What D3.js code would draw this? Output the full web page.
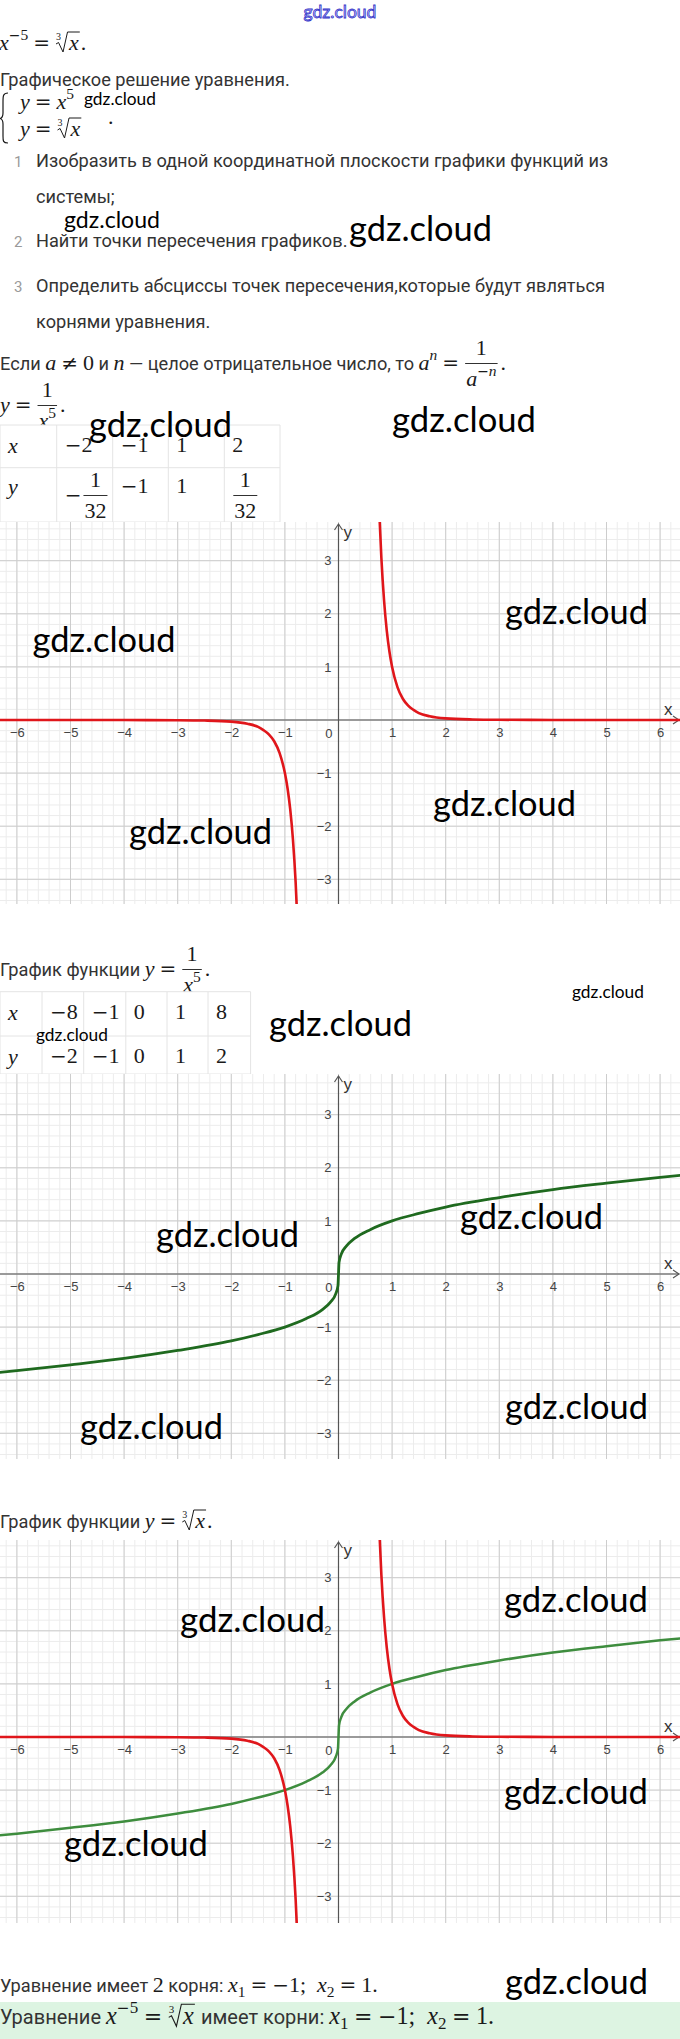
<!DOCTYPE html>
<html>
<head>
<meta charset="utf-8">
<script src="https://cdn.jsdelivr.net/npm/d3@7"></script>
<style>
	html, body { margin: 0; padding: 0; background: #fff; }
	svg { display: block; }
</style>
</head>
<body>
<div id="page"></div>
<script>
// tick labels of the three plots
var tickX = [-6, -5, -4, -3, -2, -1, 1, 2, 3, 4, 5, 6];
var tickY = [-3, -2, -1, 1, 2, 3];

// value tables
var table1X = ["−2", "−1", "1", "2"];
var table1Y = [{ sign: "−", num: "1", den: "32" }, "−1", "1", { sign: "", num: "1", den: "32" }];
var table2X = ["−8", "−1", "0", "1", "8"];
var table2Y = ["−2", "−1", "0", "1", "2"];

// y = x^-5
var redRightX = [0.76, 0.8, 0.85, 0.9, 0.95, 1, 1.1, 1.2, 1.3, 1.4, 1.5, 1.7, 2, 2.5, 3, 4, 6.5];
var redRightY = [3.94, 3.05, 2.25, 1.69, 1.29, 1, 0.62, 0.4, 0.27, 0.19, 0.13, 0.07, 0.03, 0.01, 0.004, 0.001, 0];
var redLeftX = [-6.5, -4, -3, -2.5, -2, -1.7, -1.5, -1.4, -1.3, -1.2, -1.1, -1, -0.95, -0.9, -0.85, -0.8, -0.76];
var redLeftY = [0, -0.001, -0.004, -0.01, -0.03, -0.07, -0.13, -0.19, -0.27, -0.4, -0.62, -1, -1.29, -1.69, -2.25, -3.05, -3.94];

// y = cube root of x
var greenX = [-6.5, -6, -5, -4, -3, -2, -1.5, -1, -0.6, -0.3, -0.15, -0.05, -0.01, 0, 0.01, 0.05, 0.15, 0.3, 0.6, 1, 1.5, 2, 3, 4, 5, 6, 6.5];
var greenY = [-1.87, -1.82, -1.71, -1.59, -1.44, -1.26, -1.14, -1, -0.84, -0.67, -0.53, -0.37, -0.22, 0, 0.22, 0.37, 0.53, 0.67, 0.84, 1, 1.14, 1.26, 1.44, 1.59, 1.71, 1.82, 1.87];

var width = 680;
var height = 2039;
var unitX = 53.6;
var unitY = 53.1;
var originX = 338.5;

var serif = "'Liberation Serif', serif";
var opFont = "'DejaVu Serif', serif";

var styles = {
	s:  { ff: "Roboto, sans-serif", fs: 18.2, fill: "#333" },
	n:  { ff: "Roboto, sans-serif", fs: 15, fill: "#9a9a9a" },
	i:  { ff: serif, fs: 22, fill: "#1a1a1a", it: true },
	m:  { ff: serif, fs: 22, fill: "#1a1a1a" },
	r:  { ff: opFont, fs: 20, fill: "#1a1a1a", pad: 5 },
	o:  { ff: opFont, fs: 20, fill: "#1a1a1a" },
	p:  { ff: serif, fs: 15.5, fill: "#1a1a1a", dy: -10 },
	po: { ff: opFont, fs: 14, fill: "#1a1a1a", dy: -10 },
	pi: { ff: serif, fs: 15.5, fill: "#1a1a1a", dy: -10, it: true },
	b:  { ff: serif, fs: 15.5, fill: "#1a1a1a", dy: 4.5 }
};

var svg = d3.select("#page").append("svg")
	.attr("width", width)
	.attr("height", height);

svg.append("rect").attr("width", width).attr("height", height).attr("fill", "#fff");

// lays out a row of text / math pieces, returns the width
function rich(g, x, y, toks) {
	var cx = x;
	toks.forEach(function(t) {
		if (t.gap) {
			cx += t.gap;
		} else if (t.frac) {
			var gn = g.append("g");
			var wn = rich(gn, 0, 0, t.frac[0]);
			var gd = g.append("g");
			var wd = rich(gd, 0, 0, t.frac[1]);
			var w = Math.max(wn, wd) + 4;
			gn.attr("transform", "translate(" + (cx + (w - wn) / 2) + "," + (y - 15) + ")");
			gd.attr("transform", "translate(" + (cx + (w - wd) / 2) + "," + (y + 16) + ")");
			g.append("line")
				.attr("x1", cx + 1).attr("x2", cx + w - 1)
				.attr("y1", y - 6.5).attr("y2", y - 6.5)
				.attr("stroke", "#1a1a1a").attr("stroke-width", 0.9);
			cx += w + 2;
		} else if (t.root) {
			var gr = g.append("g");
			var wr = rich(gr, 0, 0, t.root);
			gr.attr("transform", "translate(" + (cx + 14) + "," + y + ")");
			g.append("text")
				.attr("x", cx + 1).attr("y", y - 10)
				.attr("font-family", serif)
				.attr("font-size", 10).attr("fill", "#1a1a1a")
				.text("3");
			g.append("path")
				.attr("d", "M" + (cx + 1) + "," + (y - 6) + "L" + (cx + 3.5) + "," + (y - 7.5) +
					"L" + (cx + 8) + "," + (y + 2) + "L" + (cx + 12.5) + "," + (y - 18) +
					"L" + (cx + 15 + wr) + "," + (y - 18))
				.attr("fill", "none").attr("stroke", "#1a1a1a").attr("stroke-width", 1);
			cx += 15 + wr + 1;
		} else {
			var s = styles[t[0]];
			cx += s.pad || 0;
			var el = g.append("text")
				.attr("x", cx).attr("y", y + (s.dy || 0))
				.attr("font-family", s.ff).attr("font-size", s.fs)
				.attr("fill", s.fill)
				.attr("font-style", s.it ? "italic" : null)
				.style("white-space", "pre")
				.text(t[1]);
			cx += el.node().getComputedTextLength() + (s.pad || 0);
		}
	});
	return cx - x;
}

function numToks(v) {
	if (v.charAt(0) === "−") return [["o", "−"], ["m", v.slice(1)]];
	return [["m", v]];
}

function cellToks(c) {
	if (typeof c === "string") return numToks(c);
	var out = c.sign ? [["o", c.sign], { gap: 1 }] : [];
	return out.concat([{ frac: [[["m", c.num]], [["m", c.den]]] }]);
}

function drawTable(rowB, colB, head, rows, bases) {
	var g = svg.append("g");
	g.append("rect")
		.attr("x", colB[0]).attr("y", rowB[0])
		.attr("width", colB[colB.length - 1] - colB[0])
		.attr("height", rowB[rowB.length - 1] - rowB[0])
		.attr("fill", "#fff");
	colB.forEach(function(c) {
		g.append("line").attr("x1", c).attr("x2", c)
			.attr("y1", rowB[0]).attr("y2", rowB[rowB.length - 1])
			.attr("stroke", "#e4e4e4");
	});
	rowB.forEach(function(r) {
		g.append("line").attr("x1", colB[0]).attr("x2", colB[colB.length - 1])
			.attr("y1", r).attr("y2", r)
			.attr("stroke", "#e4e4e4");
	});
	rows.forEach(function(row, ri) {
		rich(g, colB[0] + 8, bases[ri] + 1, [["i", head[ri]]]);
		row.forEach(function(c, ci) {
			var isFrac = typeof c !== "string";
			rich(g, colB[ci + 1] + 8, bases[ri] + (isFrac ? 9 : 0), cellToks(c));
		});
	});
}

function drawGraph(top, zero, bottom, curves) {
	var x = d3.scaleLinear().domain([0, 1]).range([originX, originX + unitX]);
	var y = d3.scaleLinear().domain([0, 1]).range([zero, zero - unitY]);
	var id = "clip" + top;

	svg.append("clipPath").attr("id", id)
		.append("rect").attr("x", 0).attr("y", top).attr("width", width).attr("height", bottom - top);

	var g = svg.append("g").attr("clip-path", "url(#" + id + ")");
	g.append("rect").attr("x", 0).attr("y", top).attr("width", width).attr("height", bottom - top).attr("fill", "#fff");

	var minorX = d3.range(-35, 36).map(function(i) { return i / 5; });
	var minorY = d3.range(-20, 21).map(function(i) { return i / 5; });

	g.selectAll(".minx").data(minorX).enter().append("line")
		.attr("x1", d => x(d)).attr("x2", d => x(d)).attr("y1", top).attr("y2", bottom)
		.attr("stroke", "#ececec");
	g.selectAll(".miny").data(minorY).enter().append("line")
		.attr("y1", d => y(d)).attr("y2", d => y(d)).attr("x1", 0).attr("x2", width)
		.attr("stroke", "#ececec");

	// major lines on top of the minor ones
	g.selectAll(".majx").data(d3.range(-7, 8)).enter().append("line")
		.attr("x1", d => x(d)).attr("x2", d => x(d)).attr("y1", top).attr("y2", bottom)
		.attr("stroke", "#cdcdcd");
	g.selectAll(".majy").data(d3.range(-4, 5)).enter().append("line")
		.attr("y1", d => y(d)).attr("y2", d => y(d)).attr("x1", 0).attr("x2", width)
		.attr("stroke", "#cdcdcd");

	// axes
	g.append("line").attr("x1", 0).attr("x2", width - 1).attr("y1", zero).attr("y2", zero)
		.attr("stroke", "#555").attr("stroke-width", 1.2);
	g.append("line").attr("x1", originX).attr("x2", originX).attr("y1", top + 2).attr("y2", bottom)
		.attr("stroke", "#555").attr("stroke-width", 1.2);
	g.append("path")
		.attr("d", "M" + (originX - 4) + "," + (top + 8) + "L" + originX + "," + (top + 2) + "L" + (originX + 4) + "," + (top + 8))
		.attr("fill", "none").attr("stroke", "#555").attr("stroke-width", 1.2);
	g.append("path")
		.attr("d", "M" + (width - 7) + "," + (zero - 4) + "L" + (width - 1) + "," + zero + "L" + (width - 7) + "," + (zero + 4))
		.attr("fill", "none").attr("stroke", "#555").attr("stroke-width", 1.2);

	var fmt = function(d) { return d < 0 ? "−" + (-d) : String(d); };

	var ax = g.append("g").attr("transform", "translate(0," + zero + ")")
		.call(d3.axisBottom(x).tickValues(tickX).tickSize(0).tickPadding(8).tickFormat(fmt));
	var ay = g.append("g").attr("transform", "translate(" + originX + ",0)")
		.call(d3.axisLeft(y).tickValues(tickY).tickSize(0).tickPadding(7).tickFormat(fmt));
	[ax, ay].forEach(function(a) {
		a.select(".domain").remove();
		a.selectAll("text")
			.attr("font-family", "'Liberation Sans', Arial, sans-serif")
			.attr("font-size", 13)
			.attr("fill", "#444");
	});

	g.append("text").attr("x", originX - 6).attr("y", zero + 18).attr("text-anchor", "end")
		.attr("font-family", "'Liberation Sans', Arial, sans-serif").attr("font-size", 13).attr("fill", "#444")
		.text("0");
	g.append("text").attr("x", originX + 5).attr("y", top + 16)
		.attr("font-family", "'Liberation Sans', Arial, sans-serif").attr("font-size", 17).attr("fill", "#333")
		.text("y");
	g.append("text").attr("x", width - 16).attr("y", zero - 5)
		.attr("font-family", "'Liberation Sans', Arial, sans-serif").attr("font-size", 17).attr("fill", "#333")
		.text("x");

	var line = d3.line()
		.x(d => x(d[0]))
		.y(d => y(d[1]))
		.curve(d3.curveMonotoneX);

	curves.forEach(function(c) {
		g.append("path")
			.datum(d3.zip(c.xs, c.ys))
			.attr("d", line)
			.attr("fill", "none")
			.attr("stroke", c.color)
			.attr("stroke-width", c.w)
			.attr("stroke-linejoin", "round");
	});
}

// ---------- text block at the top ----------
var txt = svg.append("g");

txt.append("text")
	.attr("x", 340).attr("y", 18).attr("text-anchor", "middle")
	.attr("font-family", "Lato, sans-serif").attr("font-size", 17.5)
	.attr("fill", "#c9c9ff").attr("stroke", "#3434c8").attr("stroke-width", 0.8)
	.text("gdz.cloud");

rich(txt, -1, 50, [["i", "x"], ["po", "−"], ["p", "5"], ["r", "="], { root: [["i", "x"]] }, ["m", "."]]);

rich(txt, 0, 86, [["s", "Графическое решение уравнения."]]);

// system of equations
txt.append("path")
	.attr("d", "M8,93 C3,93 3,96 3,102 L3,113 C3,116 2,118 0,118.5 C2,119 3,121 3,124 L3,136 C3,141 3,143 8,143")
	.attr("fill", "none").attr("stroke", "#1a1a1a").attr("stroke-width", 1.2);
rich(txt, 20, 109, [["i", "y"], ["r", "="], ["i", "x"], ["p", "5"]]);
rich(txt, 20, 136, [["i", "y"], ["r", "="], { root: [["i", "x"]] }]);
rich(txt, 108, 124, [["m", "."]]);

var items = [
	["1", 167, "Изобразить в одной координатной плоскости графики функций из"],
	["", 203, "системы;"],
	["2", 247, "Найти точки пересечения графиков."],
	["3", 292, "Определить абсциссы точек пересечения,которые будут являться"],
	["", 328, "корнями уравнения."]
];
items.forEach(function(it) {
	if (it[0]) {
		txt.append("text").attr("x", 22.5).attr("y", it[1]).attr("text-anchor", "end")
			.attr("font-family", styles.n.ff).attr("font-size", styles.n.fs).attr("fill", styles.n.fill)
			.text(it[0]);
	}
	rich(txt, 36, it[1], [["s", it[2]]]);
});

rich(txt, 0, 370, [
	["s", "Если "], ["i", "a"], ["r", "≠"], ["m", "0"], ["s", " и "], ["i", "n"],
	["s", " — целое отрицательное число, то "], ["i", "a"], ["pi", "n"], ["r", "="],
	{ frac: [[["m", "1"]], [["i", "a"], ["po", "−"], ["pi", "n"]]] }, ["m", "."]
]);

rich(txt, 0, 412, [["i", "y"], ["r", "="], { frac: [[["m", "1"]], [["i", "x"], ["p", "5"]]] }, ["m", "."]]);

drawTable([425, 467.7, 522], [0, 56.7, 112.7, 168.3, 224.3, 280], ["x", "y"], [table1X, table1Y], [452, 493]);

drawGraph(522, 720, 904, [
	{ xs: redLeftX, ys: redLeftY, color: "#e0161b", w: 2.6 },
	{ xs: redRightX, ys: redRightY, color: "#e0161b", w: 2.6 }
]);

rich(txt, 0, 976, [["s", "График функции "], ["i", "y"], ["r", "="], { frac: [[["m", "1"]], [["i", "x"], ["p", "5"]]] }, ["m", "."]]);

drawTable([991.7, 1036, 1074], [0, 42, 83.7, 125.8, 167, 208, 250.6], ["x", "y"], [table2X, table2Y], [1019, 1063]);

drawGraph(1074, 1274, 1459, [
	{ xs: greenX, ys: greenY, color: "#1f6a1f", w: 2.8 }
]);

rich(svg, 0, 1528, [["s", "График функции "], ["i", "y"], ["r", "="], { root: [["i", "x"]] }, ["m", "."]]);

drawGraph(1540, 1737, 1923, [
	{ xs: greenX, ys: greenY, color: "#3e8d3e", w: 2.5 },
	{ xs: redLeftX, ys: redLeftY, color: "#e0161b", w: 2.6 },
	{ xs: redRightX, ys: redRightY, color: "#e0161b", w: 2.6 }
]);

rich(svg, 0, 1992, [
	["s", "Уравнение имеет "], ["m", "2"], ["s", " корня: "], ["i", "x"], ["b", "1"], ["r", "="], ["o", "−"], ["m", "1;"], { gap: 11 },
	["i", "x"], ["b", "2"], ["r", "="], ["m", "1."]
]);

// answer box, its text is set a little larger
svg.append("rect").attr("x", 0).attr("y", 2002).attr("width", width).attr("height", 37).attr("fill", "#ddf4e2");
var answer = svg.append("g").attr("transform", "translate(0,2024) scale(1.1)");
rich(answer, 0, 0, [
	["s", "Уравнение "], ["i", "x"], ["po", "−"], ["p", "5"], ["r", "="], { root: [["i", "x"]] },
	["s", " имеет корни: "], ["i", "x"], ["b", "1"], ["r", "="], ["o", "−"], ["m", "1;"], { gap: 11 },
	["i", "x"], ["b", "2"], ["r", "="], ["m", "1."]
]);

// ---------- watermarks: [left, right, middle] ----------
var marks = [
	[84, 156, 100], [64, 160, 222], [349, 492, 232], [89, 232, 428], [392, 536, 423],
	[32.5, 175.6, 643], [505, 648, 615], [129, 272, 835], [433, 576, 807],
	[572, 644, 993], [269, 412, 1027], [36, 108, 1036],
	[156, 299, 1238], [460, 603, 1220], [80, 223, 1430], [505, 648, 1410],
	[180, 325, 1623], [504, 648, 1603], [504, 648, 1795], [64, 208, 1847],
	[505, 648, 1985]
];
marks.forEach(function(m) {
	var t = svg.append("text")
		.attr("x", m[0])
		.attr("font-family", "Lato, sans-serif")
		.attr("font-size", 40)
		.attr("fill", "#000")
		.text("gdz.cloud");
	var fs = 40 * (m[1] - m[0]) / t.node().getComputedTextLength();
	t.attr("font-size", fs).attr("y", m[2] + 0.26 * fs);
});
</script>
</body>
</html>
